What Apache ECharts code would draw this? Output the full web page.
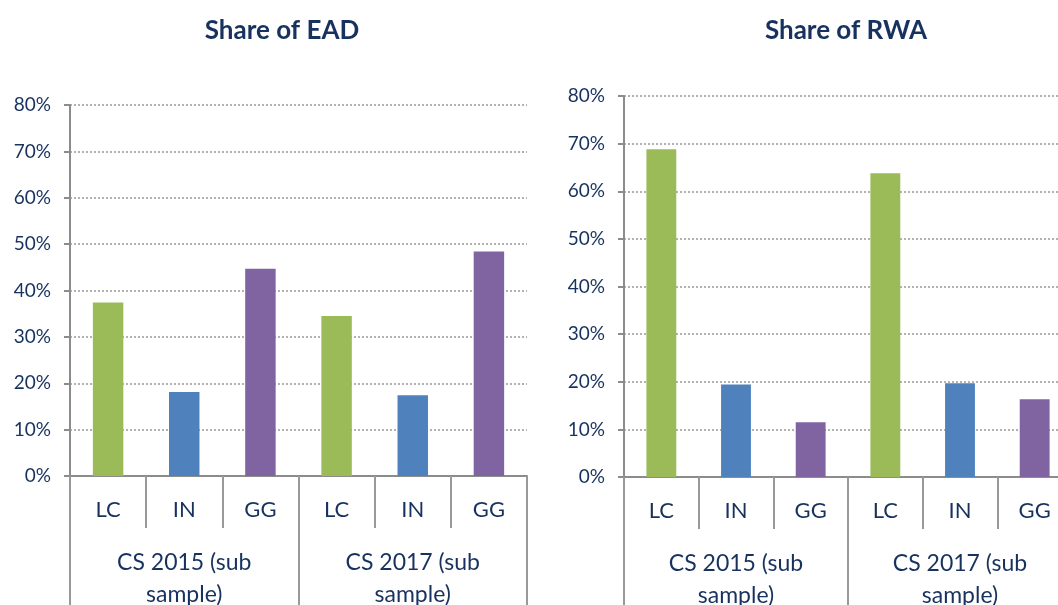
<!DOCTYPE html>
<html>
<head>
    <meta charset="utf-8">
    <title>Share of EAD / RWA</title>
    <style>
        html, body { margin: 0; padding: 0; background: #fff; }
        #chart { width: 1058px; height: 605px; }
    </style>
</head>
<body>
    <div id="chart"></div>
    <script src="https://cdn.jsdelivr.net/npm/echarts@6/dist/echarts.min.js"></script>
    <script>
        // categories
        var segments = ['LC', 'IN', 'GG', 'LC', 'IN', 'GG'];
        var samples = ['CS 2015 (sub\nsample)', 'CS 2017 (sub\nsample)'];
        var yTicks = [0, 10, 20, 30, 40, 50, 60, 70, 80];

        // values in %
        var eadShare = [37.4, 18.1, 44.7, 34.5, 17.4, 48.4];
        var rwaShare = [68.8, 19.4, 11.5, 63.8, 19.7, 16.3];

        var segColors = ['#9BBB59', '#4F81BD', '#8064A2'];
        var navy = '#17325F';
        var gray = '#8C8C8C';
        var font = 'Lato';

        var chart = echarts.init(document.getElementById('chart'));

        function yAxis(idx) {
            return {
                type: 'value',
                gridIndex: idx,
                min: yTicks[0],
                max: yTicks[yTicks.length - 1],
                interval: 10,
                axisLine: { show: true, lineStyle: { color: gray, width: 2 } },
                axisTick: { show: true, length: 6, lineStyle: { color: gray, width: 2 } },
                axisLabel: { formatter: '{value}%', color: navy, fontSize: 19, fontFamily: font, margin: 19 },
                splitLine: { show: true, lineStyle: { color: '#999', type: [2, 2], width: 1.5 } }
            };
        }

        function segAxis(idx) {
            return {
                type: 'category',
                gridIndex: idx,
                data: segments,
                position: 'bottom',
                axisLine: { show: true, lineStyle: { color: gray, width: 2 } },
                axisTick: { show: true, length: 52, lineStyle: { color: '#999', width: 2 } },
                axisLabel: { color: navy, fontSize: 22, fontFamily: font, margin: 23 }
            };
        }

        function sampleAxis(idx) {
            return {
                type: 'category',
                gridIndex: idx,
                data: samples,
                position: 'bottom',
                offset: 52,
                axisLine: { show: false },
                axisTick: { show: true, length: 90, lineStyle: { color: '#999', width: 2 } },
                axisLabel: { color: navy, fontSize: 23, fontFamily: font, margin: 19, lineHeight: 32 }
            };
        }

        function barSeries(idx, values) {
            return {
                type: 'bar',
                xAxisIndex: idx * 2,
                yAxisIndex: idx,
                data: values,
                barWidth: '40%',
                itemStyle: {
                    color: function (p) { return segColors[p.dataIndex % 3]; }
                }
            };
        }

        var option = {
            backgroundColor: '#fff',
            animation: false,
            title: [
                { text: 'Share of EAD', left: 277, top: 13, textAlign: 'center',
                  textStyle: { color: navy, fontSize: 26, fontWeight: 'bold', fontFamily: font } },
                { text: 'Share of RWA', left: 841, top: 13, textAlign: 'center',
                  textStyle: { color: navy, fontSize: 26, fontWeight: 'bold', fontFamily: font } }
            ],
            grid: [
                { left: 70, top: 105, width: 457, height: 371, containLabel: false, outerBoundsMode: 'none' },
                { left: 624, top: 96, width: 448, height: 381, containLabel: false, outerBoundsMode: 'none' }
            ],
            xAxis: [segAxis(0), sampleAxis(0), segAxis(1), sampleAxis(1)],
            yAxis: [yAxis(0), yAxis(1)],
            series: [barSeries(0, eadShare), barSeries(1, rwaShare)]
        };

        chart.setOption(option);
    </script>
</body>
</html>
